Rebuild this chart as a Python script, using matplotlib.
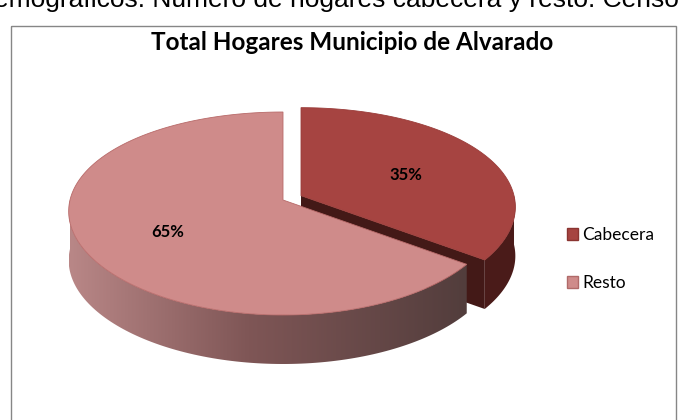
import numpy as np
import matplotlib
matplotlib.use("Agg")
import matplotlib.pyplot as plt
from matplotlib.patches import Polygon, Rectangle, Patch
from matplotlib.colors import LinearSegmentedColormap

# ---- data ----
categories = ["Cabecera", "Resto"]
values = [35, 65]
labels_pct = ["35%", "65%"]
title = "Total Hogares Municipio de Alvarado"
caption = "Demográficos. Número de hogares cabecera y resto. Censo"

top_colors = ["#A64441", "#CF8B8A"]
side_colors = ["#4A1B19", None]

plt.rcParams['font.family'] = ['Lato', 'DejaVu Sans']

fig = plt.figure(figsize=(6.8, 4.2), dpi=100)
ax = fig.add_axes([0, 0, 1, 1])
ax.set_xlim(0, 680)
ax.set_ylim(420, 0)
ax.axis('off')

# chart frame
ax.add_patch(Rectangle((10.5, 25.5), 665, 420, fill=False, ec="#868686", lw=1.0))

# caption (cut off at top as in the source)
ax.text(679, 7, caption, fontsize=19, ha='right', va='baseline', color='black',
        family=['Liberation Sans', 'DejaVu Sans'])
ax.text(352, 50, title, fontsize=17.5, fontweight='bold', ha='center', va='baseline')

# ---- 3D pie geometry ----
CX, CY = 283, 200
RX0, RXP = 213, 24
RYB, RYF = 88, 115
A = (RYB + RYF) / 2
B = (RYF - RYB) / 2
TH = 49
EXPLODE = [0.1, 0.0]
LAB_R, LAB_DZ = 0.58, 4


def pt(t, r=1.0, cx=CX, cy=CY, dz=0.0):
    t = np.asarray(t)
    x = cx + r * np.sin(t) * (RX0 - RXP * np.cos(t))
    y = cy - r * np.cos(t) * (A - B * np.cos(t)) + dz
    return x, y


tot = sum(values)
angles = np.cumsum([0] + values) / tot * 2 * np.pi
centers = []
for i in range(len(values)):
    mid = (angles[i] + angles[i + 1]) / 2
    ox, oy = pt(mid, EXPLODE[i])
    centers.append((ox, oy))

# Cabecera (index 0): side wall, end face, top
i = 0
cx, cy = centers[i]
a0, a1 = angles[i], angles[i + 1]
ts = np.linspace(max(a0, np.pi / 2), a1, 60)
xt, yt = pt(ts, 1, cx, cy)
xb, yb = pt(ts[::-1], 1, cx, cy, TH)
ax.add_patch(Polygon(np.c_[np.r_[xt, xb], np.r_[yt, yb]], closed=True,
                     fc=side_colors[0], ec='none'))
ex, ey = pt(a1, 1, cx, cy)
face = np.array([[cx, cy], [ex, ey], [ex, ey + TH], [cx, cy + TH]])
ax.add_patch(Polygon(face, closed=True, fc="#431917", ec='none'))
ts = np.linspace(a0, a1, 120)
xt, yt = pt(ts, 1, cx, cy)
ax.add_patch(Polygon(np.c_[np.r_[cx, xt], np.r_[cy, yt]], closed=True,
                     fc=top_colors[0], ec='#9A3C39', lw=0.6))

# Resto (index 1)
i = 1
cx, cy = centers[i]
a0, a1 = angles[i], angles[i + 1]
ts = np.linspace(a0, 1.5 * np.pi, 120)
xt, yt = pt(ts, 1, cx, cy)
xb, yb = pt(ts[::-1], 1, cx, cy, TH)
side = Polygon(np.c_[np.r_[xt, xb], np.r_[yt, yb]], closed=True,
               fc='none', ec='none')
ax.add_patch(side)
cmap = LinearSegmentedColormap.from_list(
    "side", [(0.0, "#B98787"), (0.45, "#7F5656"), (1.0, "#523D3C")])
xmin, xmax = min(xt.min(), xb.min()), max(xt.max(), xb.max())
grad = np.linspace(0, 1, 256)[None, :]
im = ax.imshow(grad, cmap=cmap, aspect='auto',
               extent=[xmin, xmax, yb.max() + 2, yt.min() - 2], zorder=1)
im.set_clip_path(side)
ts = np.linspace(a0, a1, 200)
xt, yt = pt(ts, 1, cx, cy)
ax.add_patch(Polygon(np.c_[np.r_[cx, xt], np.r_[cy, yt]], closed=True,
                     fc=top_colors[1], ec='#B86A69', lw=0.6, zorder=2))
ax.set_xlim(0, 680)
ax.set_ylim(420, 0)

# percentage labels
for i in range(len(values)):
    mid = (angles[i] + angles[i + 1]) / 2
    cx, cy = centers[i]
    lx, ly = pt(mid, LAB_R, cx, cy, dz=LAB_DZ)
    ax.text(lx, ly, labels_pct[i], fontsize=12, fontweight='bold',
            ha='center', va='center', zorder=5)

# legend
handles = [Patch(fc=top_colors[0], ec="#8A3431"),
           Patch(fc=top_colors[1], ec="#B06A69")]
ax.legend(handles, categories, loc='center left', bbox_to_anchor=(567, 259),
          bbox_transform=ax.transData, frameon=False, fontsize=12.5,
          handlelength=0.63, handleheight=0.63, handletextpad=0.25,
          labelspacing=1.85, borderpad=0, borderaxespad=0)

fig.savefig("out.png", dpi=100)
